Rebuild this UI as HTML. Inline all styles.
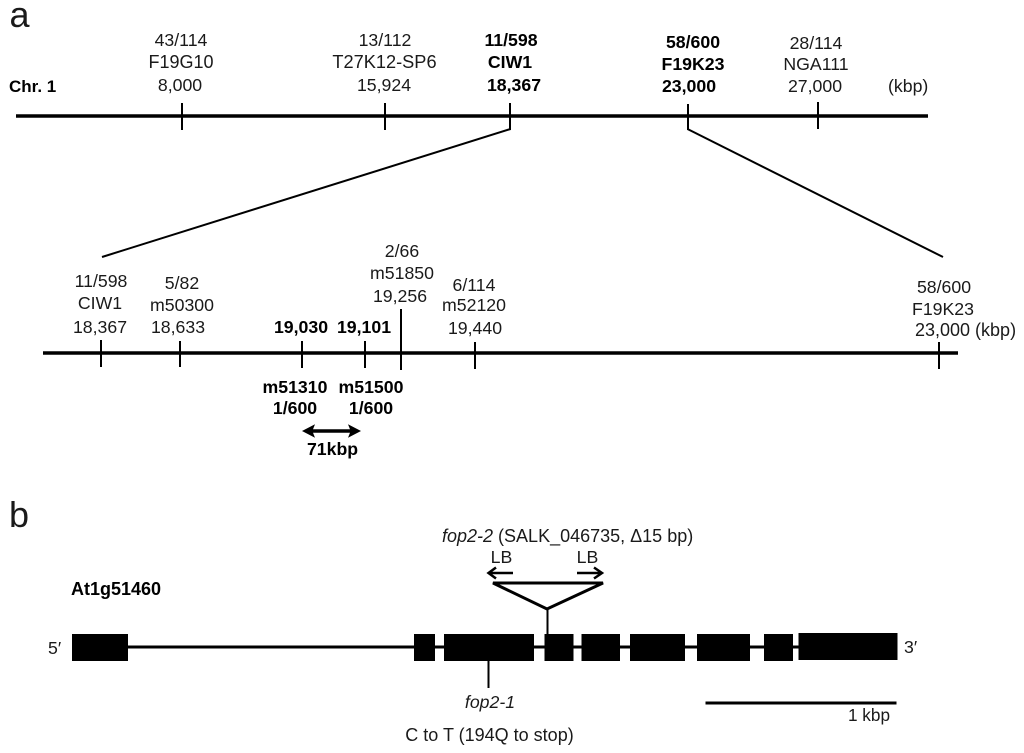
<!DOCTYPE html>
<html>
<head>
<meta charset="utf-8">
<style>
html,body{margin:0;padding:0;background:#fff}
svg{display:block;filter:blur(0.35px)}
text{font-family:"Liberation Sans",sans-serif;font-size:17.7px;fill:#1a1a1a}
.m{text-anchor:middle}
.b{font-weight:bold;fill:#000}
.i{font-style:italic}
line{stroke:#000;stroke-width:2}
.t{stroke-width:3.5}
rect{fill:#000}
</style>
</head>
<body>
<svg width="1024" height="753" viewBox="0 0 1024 753" xmlns="http://www.w3.org/2000/svg">
<text x="9.500" y="27" style="font-size:36px">a</text>
<text x="9" y="527" style="font-size:36px">b</text>

<!-- Top chromosome -->
<text x="9" y="92" class="b" style="font-size:17px">Chr. 1</text>
<text x="181" y="46" class="m">43/114</text><text x="181" y="68" class="m" style="font-size:18px">F19G10</text><text x="180" y="91" class="m">8,000</text>
<text x="385" y="46" class="m">13/112</text><text x="384.500" y="68" class="m" style="font-size:18.2px">T27K12-SP6</text><text x="384" y="91" class="m">15,924</text>
<text x="511" y="46" class="m b">11/598</text><text x="510" y="68" class="m b">CIW1</text><text x="514" y="91" class="m b">18,367</text>
<text x="693" y="48" class="m b">58/600</text><text x="693" y="70" class="m b">F19K23</text><text x="689" y="92" class="m b">23,000</text>
<text x="816" y="49" class="m">28/114</text><text x="816" y="70" class="m">NGA111</text><text x="815" y="92" class="m">27,000</text>
<text x="888" y="92">(kbp)</text>
<line class="t" x1="16" y1="116" x2="928" y2="116"/>
<line x1="182" y1="103" x2="182" y2="130"/>
<line x1="385" y1="103" x2="385" y2="130"/>
<line x1="510" y1="103" x2="510" y2="130"/>
<line x1="688" y1="104" x2="688" y2="130"/>
<line x1="818" y1="102" x2="818" y2="129"/>
<line x1="510.500" y1="129" x2="102" y2="257"/>
<line x1="687.500" y1="129" x2="943" y2="257"/>

<!-- Detail -->
<text x="101" y="287" class="m">11/598</text><text x="100" y="309" class="m">CIW1</text><text x="100" y="333" class="m">18,367</text>
<text x="182" y="289" class="m">5/82</text><text x="182" y="311" class="m">m50300</text><text x="178" y="333" class="m">18,633</text>
<text x="301" y="333" class="m b">19,030</text>
<text x="364" y="333" class="m b">19,101</text>
<text x="402" y="257" class="m">2/66</text><text x="402" y="279" class="m">m51850</text><text x="400" y="302" class="m">19,256</text>
<text x="474" y="291" class="m">6/114</text><text x="474" y="311" class="m">m52120</text><text x="475" y="334" class="m">19,440</text>
<text x="944" y="293" class="m">58/600</text><text x="943" y="315" class="m">F19K23</text><text x="915" y="336" style="font-size:18px">23,000 (kbp)</text>
<line class="t" x1="43" y1="353" x2="958" y2="353"/>
<line x1="101" y1="340" x2="101" y2="367"/>
<line x1="180" y1="341" x2="180" y2="367"/>
<line x1="302" y1="341" x2="302" y2="368"/>
<line x1="365" y1="341" x2="365" y2="368"/>
<line x1="401" y1="309" x2="401" y2="370"/>
<line x1="475" y1="342" x2="475" y2="369"/>
<line x1="939" y1="342" x2="939" y2="369"/>
<text x="295" y="393" class="m b">m51310</text><text x="295" y="414" class="m b">1/600</text>
<text x="371" y="393" class="m b">m51500</text><text x="371" y="414" class="m b">1/600</text>
<path d="M302 431L315 424.300L313 429.200H350L348 424.300L361 431L348 437.700L350 432.800H313L315 437.700Z" fill="#000"/>
<text x="332.500" y="455" class="m b">71kbp</text>

<!-- Gene -->
<text x="442" y="542" style="font-size:18px"><tspan class="i">fop2-2</tspan> (SALK_046735, Δ15 bp)</text>
<text x="501.500" y="563" class="m">LB</text>
<text x="587.500" y="563" class="m">LB</text>
<path d="M513 573H489M496 567.500L488.500 573L496 578.500" fill="none" stroke="#000" stroke-width="2.500"/>
<path d="M577 573H601M594 567.500L602 573L594 578.500" fill="none" stroke="#000" stroke-width="2.500"/>
<path d="M493 583H603L547 609Z" fill="none" stroke="#000" stroke-width="3"/>
<line x1="547.500" y1="609" x2="547.500" y2="634"/>
<text x="71" y="595" class="b" style="font-size:18px">At1g51460</text>
<text x="48" y="654">5′</text>
<text x="904" y="653">3′</text>
<line x1="72" y1="647" x2="897" y2="647" style="stroke-width:3"/>
<rect x="72" y="634" width="56" height="27"/>
<rect x="414" y="634" width="21" height="27"/>
<rect x="444" y="634" width="90" height="27"/>
<rect x="544.500" y="634" width="29" height="27"/>
<rect x="581.500" y="634" width="38.500" height="27"/>
<rect x="630" y="634" width="55" height="27"/>
<rect x="697" y="634" width="53" height="27"/>
<rect x="764" y="634" width="29" height="27"/>
<rect x="798.500" y="633" width="99" height="27"/>
<line x1="488.500" y1="660" x2="488.500" y2="688"/>
<text x="490" y="708" class="m i">fop2-1</text>
<text x="489.500" y="741" class="m" style="font-size:18px">C to T (194Q to stop)</text>
<line x1="705.500" y1="703" x2="896.500" y2="703" style="stroke-width:3"/>
<text x="869" y="721" class="m" style="font-size:17.2px">1 kbp</text>
</svg>
</body>
</html>
